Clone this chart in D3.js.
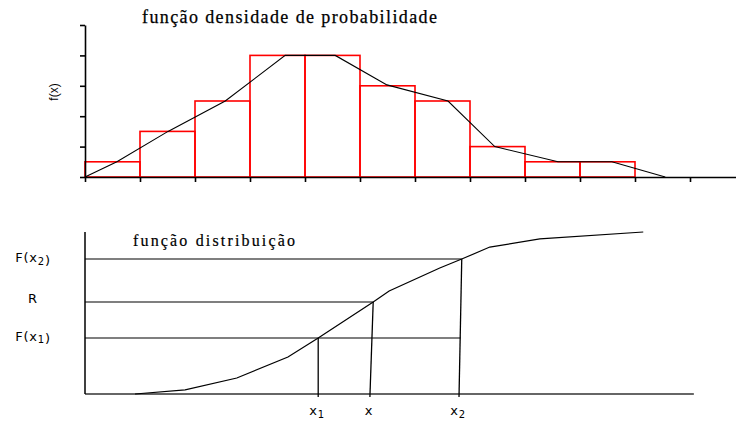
<!DOCTYPE html>
<html>
<head>
<meta charset="utf-8">
<script src="https://cdn.jsdelivr.net/npm/d3@7"></script>
<style>
  body { margin: 0; background: #fff; }
  svg { display: block; }
  .serif { font-family: "Liberation Serif", "Times New Roman", serif; }
  .sans { font-family: "DejaVu Sans", Verdana, sans-serif; }
</style>
</head>
<body>
<svg id="chart" width="736" height="421"></svg>
<script>
// histogram bins (unit width) and their heights
const binStart = [0, 1, 2, 3, 4, 5, 6, 7, 8, 9];
const binHeight = [0.5, 1.5, 2.5, 4, 4, 3, 2.5, 1, 0.5, 0.5];

// black polygon over the histogram
const polyX = [0, 0.58, 1.51, 2.55, 3.64, 4.55, 5.49, 6.6, 7.45, 8.6, 9.58, 10.55];
const polyY = [0, 0.5, 1.5, 2.5, 4, 4, 3.03, 2.5, 1, 0.5, 0.5, 0];

const xTicks = [0, 1, 2, 3, 4, 5, 6, 7, 8, 9, 10, 11];
const yTicks = [0, 1, 2, 3, 4, 5];

// distribution function
const cdfX = [0.91, 1.82, 2.76, 3.69, 4.24, 5.24, 5.53, 6.45, 6.85, 7.36, 8.27, 10.15];
const cdfY = [0, 0.025, 0.099, 0.228, 0.346, 0.568, 0.636, 0.778, 0.833, 0.907, 0.957, 1.0];

// reference levels F(x1), R, F(x2)  ("_" marks a subscript)
const levelLabels = ["F(x_1)", "R", "F(x_2)"];
const levelValues = [0.346, 0.568, 0.833];
const levelEnd = [6.83, 5.24, 6.85];

// points on the x axis (same order as the levels)
const markLabels = ["x_1", "x", "x_2"];
const markTop = [4.24, 5.24, 6.85];
const markBottom = [4.24, 5.18, 6.8];

const svg = d3.select("#chart");

// writes "F(x_1)" as F(x + subscript 1 + )
function subLabel(sel) {
    sel.each(function (d) {
        let parts = d.split(/_(\d)/);
        let t = d3.select(this);
        parts.forEach(function (p, i) {
            if (p === "") return;
            if (i % 2 === 1) {
                t.append("tspan").attr("font-size", 10).attr("dy", 2.5).text(p);
                t.append("tspan").attr("dy", -2.5).text("");
            } else {
                t.append("tspan").text(p);
            }
        });
    });
}

// ---- top chart: densidade ----
const x = d3.scaleLinear().domain([0, 11.85]).range([85, 736.75]);
const yTop = d3.scaleLinear().domain([0, 5]).range([177, 25]);

const topChart = svg.append("g");

topChart.selectAll(".bin")
    .data(binStart)
    .enter()
    .append("rect")
    .attr("class", "bin")
    .attr("x", (d) => x(d))
    .attr("y", (d, i) => yTop(binHeight[i]))
    .attr("width", (d) => x(d + 1) - x(d))
    .attr("height", (d, i) => yTop(0) - yTop(binHeight[i]))
    .attr("fill", "none")
    .attr("stroke", "#ff0000")
    .attr("stroke-width", 1.6);

topChart.append("path")
    .datum(polyX.map((d, i) => [d, polyY[i]]))
    .attr("fill", "none")
    .attr("stroke", "#000")
    .attr("stroke-width", 1.1)
    .attr("d", d3.line().x((d) => x(d[0])).y((d) => yTop(d[1])));

topChart.append("g")
    .attr("transform", "translate(0," + yTop(0) + ")")
    .call(d3.axisBottom(x).tickValues(xTicks).tickFormat("").tickSize(5).tickSizeOuter(0))
    .call((g) => g.selectAll("path, line").attr("stroke", "#000").attr("stroke-width", 1.6));

topChart.append("g")
    .attr("transform", "translate(" + x(0) + ",0)")
    .call(d3.axisLeft(yTop).tickValues(yTicks).tickFormat("").tickSize(5).tickSizeOuter(0))
    .call((g) => g.selectAll("path, line").attr("stroke", "#000").attr("stroke-width", 1.6));

topChart.append("text")
    .attr("class", "serif")
    .attr("x", 142)
    .attr("y", 22.5)
    .attr("font-size", 18)
    .attr("stroke", "#000")
    .attr("stroke-width", 0.25)
    .attr("textLength", 295)
    .attr("lengthAdjust", "spacing")
    .text("função densidade de probabilidade");

topChart.append("text")
    .attr("transform", "translate(58,92) rotate(-90)")
    .attr("text-anchor", "middle")
    .attr("font-family", "'Liberation Sans', Arial, sans-serif")
    .attr("font-size", 12)
    .text("f(x)");

// ---- bottom chart: distribuição ----
const yBot = d3.scaleLinear().domain([0, 1]).range([394, 232]);
const bottomChart = svg.append("g");

bottomChart.append("line")
    .attr("x1", x(0)).attr("x2", x(11.07))
    .attr("y1", yBot(0)).attr("y2", yBot(0))
    .attr("stroke", "#333").attr("stroke-width", 1.5);

bottomChart.append("line")
    .attr("x1", x(0)).attr("x2", x(0))
    .attr("y1", yBot(0)).attr("y2", yBot(1))
    .attr("stroke", "#000").attr("stroke-width", 1.5);

bottomChart.selectAll(".level")
    .data(levelValues)
    .enter()
    .append("line")
    .attr("class", "level")
    .attr("x1", x(0))
    .attr("x2", (d, i) => x(levelEnd[i]))
    .attr("y1", (d) => yBot(d))
    .attr("y2", (d) => yBot(d))
    .attr("stroke", "#000")
    .attr("stroke-width", 1.1);

bottomChart.selectAll(".mark")
    .data(markTop)
    .enter()
    .append("line")
    .attr("class", "mark")
    .attr("x1", (d) => x(d))
    .attr("y1", (d, i) => yBot(levelValues[i]))
    .attr("x2", (d, i) => x(markBottom[i]))
    .attr("y2", yBot(0) + 3)
    .attr("stroke", "#000")
    .attr("stroke-width", 1.3);

bottomChart.append("path")
    .datum(cdfX.map((d, i) => [d, cdfY[i]]))
    .attr("fill", "none")
    .attr("stroke", "#000")
    .attr("stroke-width", 1.2)
    .attr("d", d3.line().x((d) => x(d[0])).y((d) => yBot(d[1])));

bottomChart.append("text")
    .attr("class", "serif")
    .attr("x", 133)
    .attr("y", 246)
    .attr("font-size", 16)
    .attr("stroke", "#000")
    .attr("stroke-width", 0.2)
    .attr("textLength", 162)
    .attr("lengthAdjust", "spacing")
    .text("função distribuição");

bottomChart.selectAll(".level-label")
    .data(levelLabels)
    .enter()
    .append("text")
    .attr("class", "sans level-label")
    .attr("x", 33)
    .attr("y", (d, i) => yBot(levelValues[i]) + 3 + (i === 1 ? -2 : 0))
    .attr("text-anchor", "middle")
    .attr("font-size", 13)
    .attr("letter-spacing", 0.8)
    .call(subLabel);

bottomChart.selectAll(".mark-label")
    .data(markLabels)
    .enter()
    .append("text")
    .attr("class", "sans mark-label")
    .attr("x", (d, i) => x(markBottom[i]) - 1)
    .attr("y", 415)
    .attr("text-anchor", "middle")
    .attr("font-size", 13)
    .attr("letter-spacing", 0.8)
    .call(subLabel);
</script>
</body>
</html>
